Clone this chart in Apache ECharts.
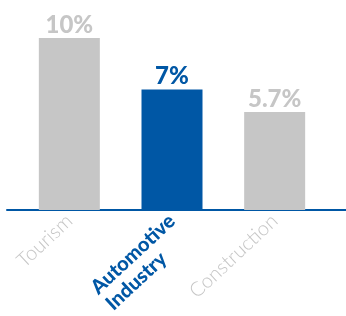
<!DOCTYPE html>
<html><head><meta charset="utf-8">
<script src="https://cdn.jsdelivr.net/npm/echarts@6/dist/echarts.min.js"></script>
<style>html,body{margin:0;padding:0;background:#fff}#c{width:346px;height:316px}</style>
</head><body><div id="c"></div>
<script>
const categories = ['Tourism', 'Automotive\nIndustry', 'Construction'];
const values = [10, 7, 5.7];
const valueLabels = ['10%', '7%', '5.7%'];
const highlight = [false, true, false];

const GRAY = '#c6c6c6';
const BLUE = '#0057a5';
const chart = echarts.init(document.getElementById('c'), null, {renderer: 'canvas'});
chart.setOption({
  animation: false,
  grid: [
    {left: 18, right: 20, top: 38, bottom: 106},
    {left: 7, right: 0, top: 38, bottom: 106}
  ],
  xAxis: [{
    type: 'category', data: categories, gridIndex: 0,
    axisLine: {show: false}, axisTick: {show: false},
    axisLabel: {
      interval: 0, rotate: 43, margin: 8,
      fontFamily: 'Lato', fontSize: 20,
      formatter: function (v, i) {
        if (!highlight[i]) return '{g|' + v + '}';
        return '{e| }\n' + v.split('\n').map(s => '{b|' + s + '}').join('\n');
      },
      rich: {
        g: {color: GRAY, fontFamily: 'Lato', fontWeight: 300, fontSize: 20},
        e: {fontSize: 20, lineHeight: 22, align: 'left'},
        b: {color: BLUE, fontFamily: 'Lato', fontWeight: 900, fontSize: 20, lineHeight: 22, align: 'left'}
      }
    }
  }, {
    type: 'category', data: [''], gridIndex: 1,
    axisLine: {show: true, lineStyle: {color: BLUE, width: 2}},
    axisTick: {show: false}, axisLabel: {show: false}
  }],
  yAxis: [
    {type: 'value', min: 0, max: 10, show: false, gridIndex: 0},
    {type: 'value', min: 0, max: 10, show: false, gridIndex: 1}
  ],
  series: [{
    type: 'bar', barWidth: 61,
    data: values.map((v, i) => ({
      value: v,
      itemStyle: {color: highlight[i] ? BLUE : GRAY},
      label: {
        show: true, position: 'top', distance: 1,
        formatter: valueLabels[i],
        color: highlight[i] ? BLUE : GRAY,
        fontFamily: 'Lato', fontWeight: 900, fontSize: 24
      }
    }))
  }]
});
</script></body></html>
